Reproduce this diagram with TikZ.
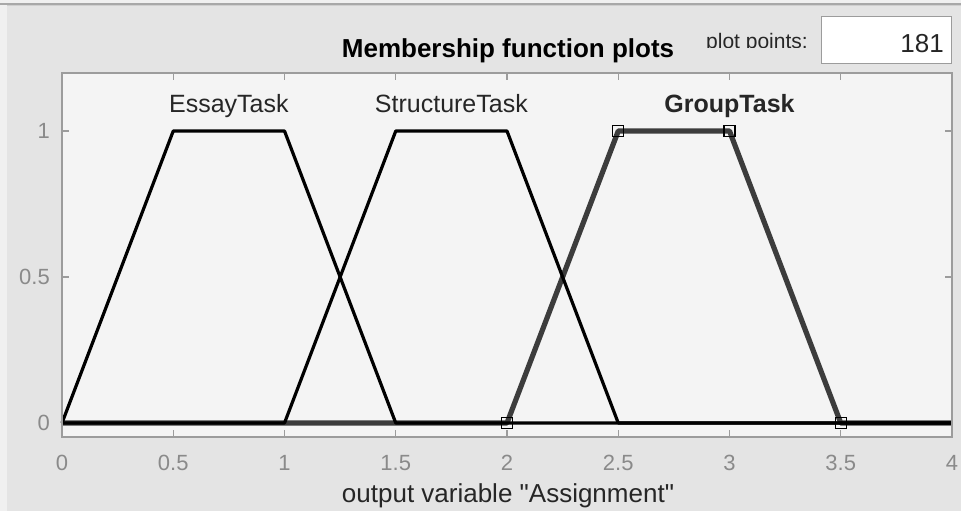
\documentclass[tikz,border=0pt]{standalone}
\usepackage{fontspec}
\setmainfont{Liberation Sans}
% plain family without TeX ligatures, so that " stays a straight quote
\newfontfamily\plainsans{Liberation Sans}
\begin{document}
\begin{tikzpicture}[x=1pt,y=-1pt,
  frame/.style={draw=axisgray,line width=1.2pt},
  tick/.style={draw=axisgray,line width=1.2pt},
  ticklabel/.style={text=ticktext,font=\fontsize{22}{26}\selectfont,inner sep=0pt},
  mflabel/.style={text=labeltext,font=\fontsize{25}{30}\selectfont,inner sep=0pt,anchor=base},
  mfcurve/.style={draw=black,line width=3.2pt,line join=round},
  mfselected/.style={draw=selgray,line width=5.2pt,line join=round},
  vertex/.style={draw=black,line width=1.3pt,fill=none,minimum size=11pt,inner sep=0pt,rectangle}
]
\definecolor{panelbg}{HTML}{E4E4E4}
\definecolor{axesbg}{HTML}{F4F4F4}
\definecolor{axisgray}{HTML}{9C9C9C}
\definecolor{ticktext}{HTML}{8A8A8A}
\definecolor{labeltext}{HTML}{262626}
\definecolor{selgray}{HTML}{3C3C3C}
\definecolor{topline}{HTML}{A8A8A8}
\definecolor{topline2}{HTML}{CFCFCF}
\definecolor{strip}{HTML}{F0F0F0}

\useasboundingbox (0,0) rectangle (961,513);
% window background
\fill[white] (0,0) rectangle (961,513);
\fill[strip] (0,0) rectangle (961,4);
\fill[strip] (0,0) rectangle (7,511);
\fill[panelbg] (7,6) rectangle (961,511);
\fill[topline] (0,3.5) rectangle (961,5);
\fill[topline2] (7,5) rectangle (961,6.5);

% title
\node[font=\bfseries\fontsize{26}{31}\selectfont,text=black,anchor=base,inner sep=0pt] (title) at (508,58) {Membership function plots};

% plot points control (label is cut off at the bottom)
\begin{scope}
  \clip (690,0) rectangle (818,47.5);
  \node[font=\fontsize{21}{25}\selectfont,text=labeltext,anchor=base west,inner sep=0pt] (pplabel) at (706,49) {plot points:};
\end{scope}
\node[draw=axisgray,fill=white,line width=1pt,minimum width=130pt,minimum height=47pt,inner sep=0pt] (ppbox) at (886,40.5) {};
\node[font=\fontsize{26}{31}\selectfont,text=labeltext,anchor=base east,inner sep=0pt] (ppvalue) at (944,53) {181};

% axes area
\fill[axesbg] (62,73) rectangle (952,437);

\begin{scope}[shift={(62,423)},x=222.5pt,y=292pt]
  % ticks on all four sides
  \foreach \t in {0,0.5,...,4} {
    \draw[tick] (\t,-0.048) -- ++(0,7pt);
    \draw[tick] (\t,1.2) -- ++(0,-7pt);
  }
  \foreach \t in {0,0.5,1} {
    \draw[tick] (0,\t) -- ++(7pt,0);
    \draw[tick] (4,\t) -- ++(-7pt,0);
  }
  % tick labels
  \foreach \t/\lab in {0/0,0.5/0.5,1/1,1.5/1.5,2/2,2.5/2.5,3/3,3.5/3.5,4/4}
    \node[ticklabel,anchor=center] (xl-\lab) at ([yshift=-40pt]\t,0) {\lab};
  \foreach \t/\lab in {0/0,0.5/0.5,1/1}
    \node[ticklabel,anchor=east] (yl-\lab) at ([xshift=-12pt]0,\t) {\lab};

  % membership functions
  \draw[mfselected] (0,0) -- (2,0) -- (2.5,1) -- (3,1) -- (3.5,0) -- (4,0);
  \draw[mfcurve] (0,0) -- (0.5,1) -- (1,1) -- (1.5,0) -- (4,0);
  \draw[mfcurve] (0,0) -- (1,0) -- (1.5,1) -- (2,1) -- (2.5,0) -- (4,0);
  \node[vertex] (g1) at (2,0) {};
  \node[vertex] (g2) at (2.5,1) {};
  \node[vertex] (g3) at (3,1) {};
  \node[vertex] (g4) at (3.5,0) {};

  % membership function names
  \node[mflabel] (essay) at ([yshift=18pt]0.75,1) {EssayTask};
  \node[mflabel] (structure) at ([yshift=18pt]1.75,1) {StructureTask};
  \node[mflabel,font=\bfseries\fontsize{25}{30}\selectfont] (group) at ([yshift=18pt]3,1) {GroupTask};
\end{scope}

% frame
\draw[frame] (62,73) rectangle (952,437);

% axis title
\node[font=\plainsans\fontsize{26}{31}\selectfont,text=labeltext,anchor=base,inner sep=0pt] (xtitle) at (508,502) {output variable "Assignment"};
\end{tikzpicture}
\end{document}
